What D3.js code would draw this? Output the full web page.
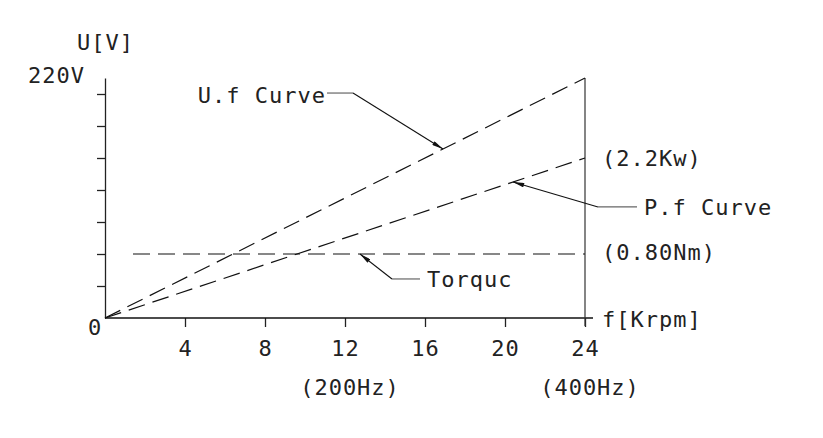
<!DOCTYPE html>
<html>
<head>
<meta charset="utf-8">
<script src="https://cdn.jsdelivr.net/npm/d3@7"></script>
<style>
  body { margin: 0; background: #fff; }
  text { font-family: "DejaVu Sans Mono", monospace; font-size: 22px; fill: #222; letter-spacing: 1px; }
</style>
</head>
<body>
<div id="chart"></div>
<script>
// U/f, P/f and torque curves vs speed

// speed axis, Krpm
var xTicks = [4, 8, 12, 16, 20, 24];
var xDomain = [0, 24];
// vertical axis in divisions (220V = 7.5 divisions)
var yTicks = [1, 2, 3, 4, 5, 6, 7];
var yDomain = [0, 7.5];

// curves: [speed, divisions]
var ufCurve = [[0, 0], [24, 7.5]];
var pfCurve = [[0, 0], [24, 5]];
var torqueCurve = [[1.4, 2], [24, 2]];

// leader annotations: tip on curve, elbow, end of horizontal
var noteLabels = ["U.f Curve", "P.f Curve", "Torquc"];
var noteTip = [[16.9, 5.28], [20.4, 4.25], [12.75, 2]];
var noteElbow = [[12.4, 7.03], [24.65, 3.47], [14.35, 1.22]];
var noteEnd = [11.1, 26.6, 15.75];

var param = {
    width: 823,
    height: 438,
    left: 105,
    right: 585,
    top: 78,
    bottom: 318,
    tick: 8,
    dash: "17,8"
};

var svg = d3.select("#chart").append("svg")
    .attr("width", param.width)
    .attr("height", param.height);

svg.append("rect").attr("width", param.width).attr("height", param.height).attr("fill", "#fff");

var x = d3.scaleLinear().domain(xDomain).range([param.left, param.right]);
var y = d3.scaleLinear().domain(yDomain).range([param.bottom, param.top]);

// left axis
var yAxis = svg.append("g")
    .attr("transform", "translate(" + param.left + ",0)")
    .call(d3.axisLeft(y).tickValues(yTicks).tickSize(param.tick).tickSizeOuter(0).tickFormat(""));
yAxis.selectAll("path, line").attr("stroke", "#222").attr("stroke-width", 1.3);

// bottom axis
var xAxis = svg.append("g")
    .attr("transform", "translate(0," + param.bottom + ")")
    .call(d3.axisBottom(x).tickValues(xTicks).tickSize(param.tick + 1).tickPadding(13).tickSizeOuter(0));
xAxis.select(".domain").remove();
xAxis.selectAll("line").attr("stroke", "#222").attr("stroke-width", 1.3);
xAxis.selectAll("text")
    .style("font-family", "DejaVu Sans Mono, monospace")
    .style("font-size", "22px")
    .attr("fill", "#222");

svg.append("line")
    .attr("x1", x(0)).attr("x2", x(24) + 8)
    .attr("y1", y(0)).attr("y2", y(0))
    .attr("stroke", "#111").attr("stroke-width", 1.6);

// right axis
svg.append("line")
    .attr("x1", x(24)).attr("x2", x(24))
    .attr("y1", y(7.5)).attr("y2", y(0) + param.tick)
    .attr("stroke", "#333").attr("stroke-width", 1.2);

// curves
var line = d3.line().x(function(d){ return x(d[0]); }).y(function(d){ return y(d[1]); });
[ufCurve, pfCurve, torqueCurve].forEach(function(c){
    svg.append("path")
	.attr("d", line(c))
	.attr("fill", "none")
	.attr("stroke", "#111")
	.attr("stroke-width", 1.2)
	.attr("stroke-dasharray", param.dash);
});

// arrowhead
svg.append("defs").append("marker")
    .attr("id", "arrow")
    .attr("viewBox", "0 0 10 4")
    .attr("refX", 10).attr("refY", 2)
    .attr("markerWidth", 12).attr("markerHeight", 4.5)
    .attr("markerUnits", "userSpaceOnUse")
    .attr("orient", "auto")
    .append("path").attr("d", "M0,0L10,2L0,4Z").attr("fill", "#111");

noteLabels.forEach(function(lab, i){
    svg.append("line")
	.attr("x1", x(noteElbow[i][0])).attr("y1", y(noteElbow[i][1]))
	.attr("x2", x(noteTip[i][0])).attr("y2", y(noteTip[i][1]))
	.attr("stroke", "#111").attr("stroke-width", 1.1)
	.attr("marker-end", "url(#arrow)");
    svg.append("line")
	.attr("x1", x(noteElbow[i][0])).attr("y1", y(noteElbow[i][1]))
	.attr("x2", x(noteEnd[i])).attr("y2", y(noteElbow[i][1]))
	.attr("stroke", "#666").attr("stroke-width", 1.2);
    var left = noteEnd[i] < noteElbow[i][0];
    svg.append("text")
	.attr("x", x(noteEnd[i]) + (left ? -1 : 7))
	.attr("y", y(noteElbow[i][1]) + (left ? 10 : 8))
	.attr("text-anchor", left ? "end" : "start")
	.text(lab);
});

// axis and value labels
svg.append("text").attr("x", 77).attr("y", 50).text("U[V]");
svg.append("text").attr("x", 28).attr("y", 83).text("220V");
svg.append("text").attr("x", x(0) - 17).attr("y", y(0) + 17).text("0");
svg.append("text").attr("x", x(24) + 17).attr("y", y(0) + 9).text("f[Krpm]");
svg.append("text").attr("x", x(24) + 17).attr("y", y(2) + 6).text("(0.80Nm)");
svg.append("text").attr("x", x(24) + 17).attr("y", y(5) + 8).text("(2.2Kw)");
svg.append("text").attr("x", x(12) + 5).attr("y", 395).attr("text-anchor", "middle").text("(200Hz)");
svg.append("text").attr("x", x(24) + 5).attr("y", 395).attr("text-anchor", "middle").text("(400Hz)");
</script>
</body>
</html>
